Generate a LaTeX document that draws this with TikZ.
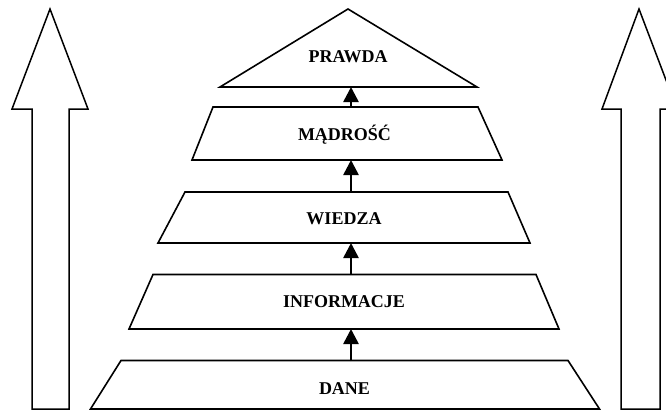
\documentclass[tikz,border=0pt]{standalone}
\usepackage{fontspec}
\setmainfont{Liberation Serif}
\usetikzlibrary{arrows.meta}
\begin{document}
\begin{tikzpicture}[x=1pt,y=-1pt,
  level/.style={draw=black,line width=1.6pt,fill=white,line join=miter},
  bigarrow/.style={draw=black,line width=1.5pt,fill=white,line join=miter},
  label/.style={font=\fontsize{18}{20}\selectfont\bfseries,anchor=base,inner sep=0pt},
  link/.style={line width=2.6pt,-{Triangle[length=15pt,width=15pt]},shorten <=-0.5pt}]
\useasboundingbox (0,0) rectangle (666,410);
\clip (0,0) rectangle (666,410);

% side arrows
\path[bigarrow] (32,409) -- (32,109) -- (12,109) -- (50,9) -- (88,109) -- (69,109) -- (69,409) -- cycle;
\path[bigarrow] (621,409) -- (621,109) -- (602,109) -- (639,9) -- (677,109) -- (660,109) -- (660,409) -- cycle;

% pyramid levels
\path[level] (220,87) -- (348,9) -- (477,87) -- cycle;
\path[level] (213,107) -- (478,107) -- (502,160) -- (192,160) -- cycle;
\path[level] (185,192) -- (508,192) -- (530,243) -- (158,243) -- cycle;
\path[level] (153,274.5) -- (536,274.5) -- (559,329) -- (129,329) -- cycle;
\path[level] (121,360.5) -- (568,360.5) -- (599.5,409) -- (90.5,409) -- cycle;

% connection points on the level edges
\coordinate (prawdaB) at (351,87);
\coordinate (madT) at (351,107);
\coordinate (madB) at (351,160);
\coordinate (wiedzaT) at (351,192);
\coordinate (wiedzaB) at (351,243);
\coordinate (infoT) at (351,274.5);
\coordinate (infoB) at (351,329);
\coordinate (daneT) at (351,360.5);

% labels
\node[label] (prawda) at (348,62) {PRAWDA};
\node[label] (madrosc) at (344.5,140) {MĄDROŚĆ};
\node[label] (wiedza) at (344,224) {WIEDZA};
\node[label] (informacje) at (344,307.5) {INFORMACJE};
\node[label] (dane) at (344.5,394) {DANE};

% arrows between levels
\draw[link] (madT) -- (prawdaB);
\draw[link] (wiedzaT) -- (madB);
\draw[link] (infoT) -- (wiedzaB);
\draw[link] (daneT) -- (infoB);
\end{tikzpicture}
\end{document}
